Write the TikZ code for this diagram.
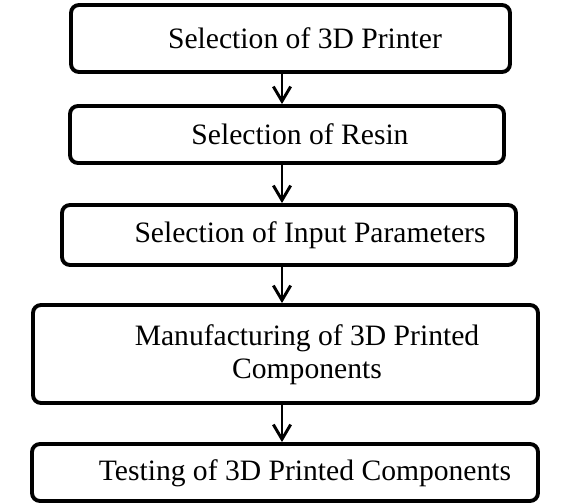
\documentclass[tikz,border=0pt]{standalone}
\usepackage{fontspec}
\setmainfont{Liberation Serif}
\usetikzlibrary{arrows.meta}

\tikzset{
  stepbox/.style={draw, line width=2.9pt, rounded corners=6pt, inner sep=0pt},
  steptext/.style={inner sep=0.75pt, align=center, font=\fontsize{22.2}{25}\selectfont},
  flowarrow/.style={line width=2.2pt, -{Straight Barb[length=11pt, width=13pt, line width=2.2pt]}}
}

\begin{document}
\begin{tikzpicture}[x=0.75pt,y=0.75pt,yscale=-1,xscale=1]
\useasboundingbox (0,0) rectangle (575,503);

%Shape: Rounded Rect [id:box1]
\node [stepbox, minimum width=329.25pt, minimum height=50.25pt] (b1) at (290.5,38.5) {};
%Shape: Rounded Rect [id:box2]
\node [stepbox, minimum width=325.5pt, minimum height=42.75pt] (b2) at (287,134.5) {};
%Shape: Rounded Rect [id:box3]
\node [stepbox, minimum width=340.5pt, minimum height=45pt] (b3) at (289,235) {};
%Shape: Rounded Rect [id:box4]
\node [stepbox, minimum width=378.75pt, minimum height=73.5pt] (b4) at (285.5,354) {};
%Shape: Rounded Rect [id:box5]
\node [stepbox, minimum width=379.5pt, minimum height=42.75pt] (b5) at (285,472.5) {};

% Text Node
\node [steptext] (t1) at (305,38.5) {Selection of 3D Printer};
% Text Node
\node [steptext] (t2) at (300,134.5) {Selection of Resin};
% Text Node
\node [steptext] (t3) at (310,235) {Selection of Input Parameters};
% Text Node
\node [steptext] (t4) at (307,355) {Manufacturing of 3D Printed\\Components};
% Text Node
\node [steptext] (t5) at (305,473) {Testing of 3D Printed Components};

%Straight Lines [id:arrows]
\coordinate (ax) at (282,0);
\draw [flowarrow] (b1.south -| ax) -- (b2.north -| ax);
\draw [flowarrow] (b2.south -| ax) -- (b3.north -| ax);
\draw [flowarrow] (b3.south -| ax) -- (b4.north -| ax);
\draw [flowarrow] (b4.south -| ax) -- (b5.north -| ax);

\end{tikzpicture}
\end{document}
